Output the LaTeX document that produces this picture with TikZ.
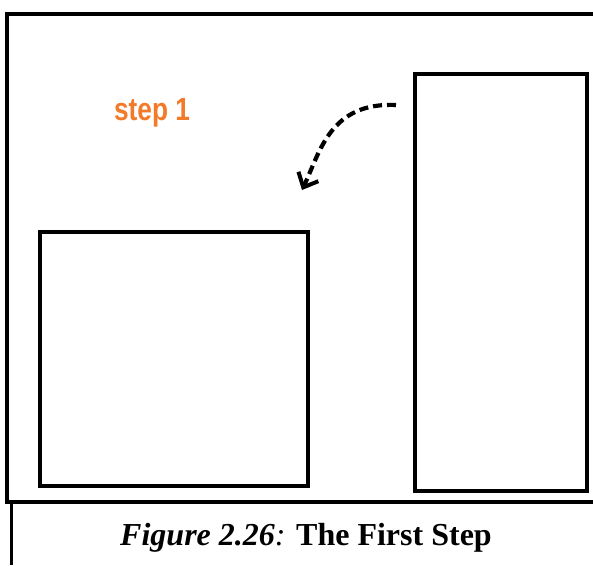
\documentclass[tikz,border=0pt]{standalone}
\usepackage{fontspec}
\setmainfont{Liberation Serif}
\newfontfamily\labelfont{Liberation Sans}
\usetikzlibrary{arrows.meta}
\definecolor{steporange}{HTML}{F27A28}
\tikzset{
  frameline/.style={line width=4pt, line cap=rect},
  thinframe/.style={line width=3pt},
  boxshape/.style={draw, line width=4pt, inner sep=0pt, fill=white},
  steplabel/.style={text=steporange, font=\labelfont\fontsize{32}{32}\selectfont\bfseries, xscale=0.82, inner sep=0pt, anchor=base},
  captiontext/.style={font=\fontsize{32}{32}\selectfont, inner sep=0pt, anchor=base},
  movearrow/.style={line width=4.2pt, dash pattern=on 9pt off 5pt, -{Straight Barb[length=12pt,width=22pt,line width=4pt]}}
}
\begin{document}
\begin{tikzpicture}[x=1pt,y=-1pt]
\useasboundingbox[fill=white] (0,0) rectangle (593,565);
% frame
\coordinate (tl) at (7,14);
\coordinate (tr) at (593,14);
\coordinate (bl) at (7,502);
\coordinate (br) at (593,502);
\coordinate (capl) at (11,502);
\coordinate (capb) at (11,565);
\draw[frameline] (tr) -- (tl) -- (bl) -- (br);
\draw[thinframe] (capl) -- (capb);
% boxes
\node[boxshape, minimum width=268pt, minimum height=254pt] (leftbox) at (174,359) {};
\node[boxshape, minimum width=172pt, minimum height=417pt] (rightbox) at (501,282.5) {};
% label
\node[steplabel] (step) at (152,120) {step 1};
% arrow
\coordinate (arrowstart) at (396,105);
\coordinate (arrowend) at (302,190);
\draw[movearrow] (arrowstart) .. controls (330,102) and (320,152) .. (arrowend);
% caption
\node[captiontext] (caption) at (306,545) {{\bfseries\itshape Figure 2.26}{\itshape :} {\bfseries The First Step}};
\end{tikzpicture}
\end{document}
